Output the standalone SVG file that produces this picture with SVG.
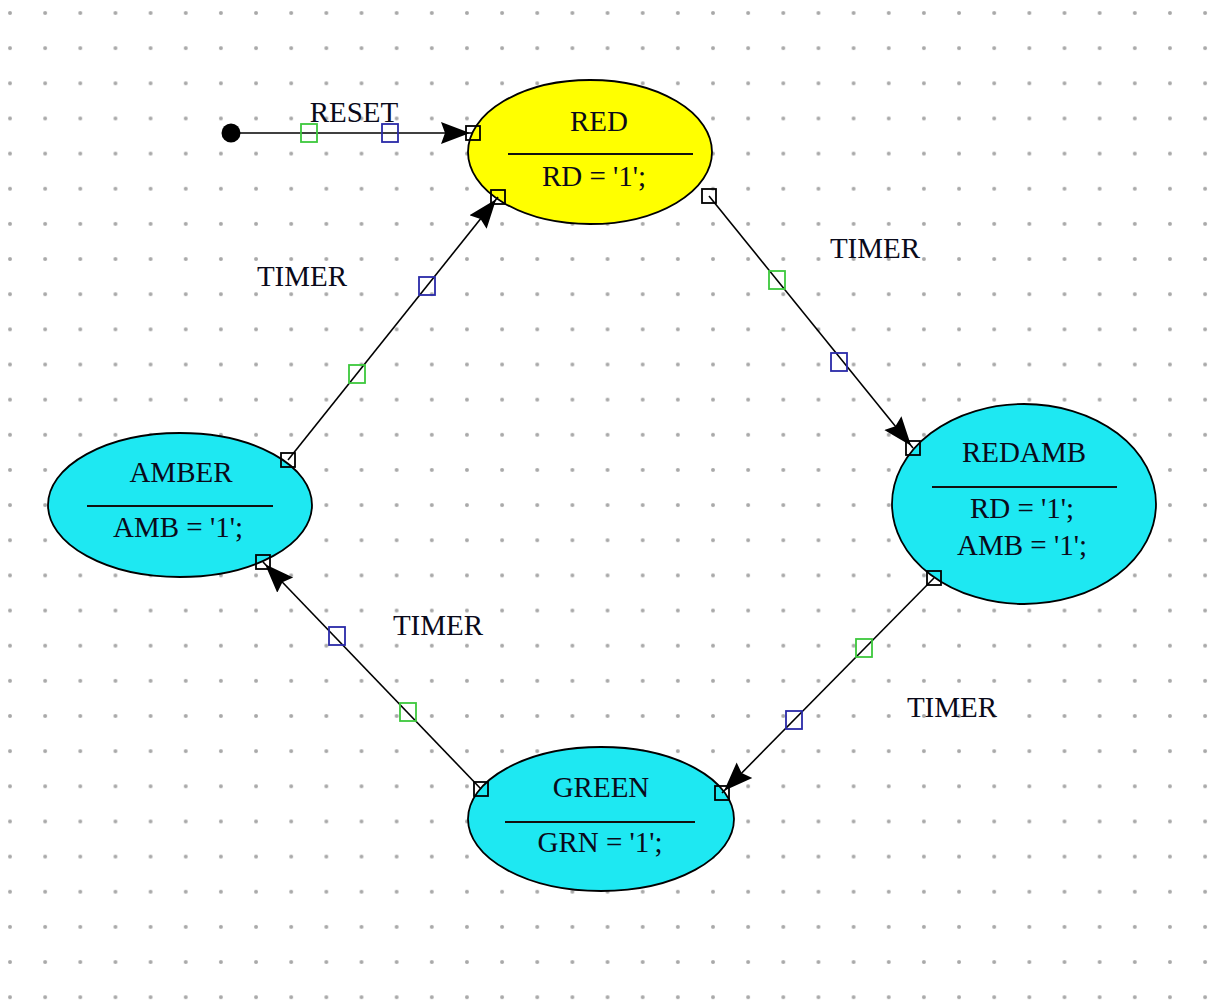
<svg xmlns="http://www.w3.org/2000/svg" width="1215" height="1000" viewBox="0 0 1215 1000">
<style>
.bg{fill:#ffffff}
.node{stroke:#000;stroke-width:1.8}
.yel{fill:#ffff00}
.cya{fill:#1ee8f2}
.sep{stroke:#101010;stroke-width:1.8}
.t{font-family:"Liberation Serif","Times New Roman",serif;font-size:29px;fill:#0a0a1a;text-anchor:middle}
.wire{stroke:#000;stroke-width:1.6;fill:none}
.ep{fill:none;stroke:#000;stroke-width:1.8}
.gs{fill:none;stroke:#3cc83c;stroke-width:1.8}
.bs{fill:none;stroke:#2a2aa8;stroke-width:1.8}
</style>
<defs>
<pattern id="grid" patternUnits="userSpaceOnUse" x="-7.575" y="-4.575" width="35.15" height="35.15">
<circle cx="17.575" cy="17.575" r="2" fill="#a8a8a8"/>
</pattern>
<marker id="arr" markerUnits="userSpaceOnUse" markerWidth="40" markerHeight="28" viewBox="0 -14 40 28" refX="32" refY="0" orient="auto">
<path d="M0,-11 L29,0 L0,11 L4,0 z" fill="#000"/>
</marker>
</defs>
<rect class="bg" x="0" y="0" width="1215" height="1000"/>
<rect x="0" y="0" width="1215" height="1000" fill="url(#grid)"/>

<g id="node-RED">
<ellipse class="node yel" cx="590" cy="152" rx="122" ry="72"/>
<text class="t" x="599" y="131">RED</text>
<line class="sep" x1="508" y1="154" x2="693" y2="154"/>
<text class="t" x="594" y="186">RD = '1';</text>
</g>
<g id="node-REDAMB">
<ellipse class="node cya" cx="1024" cy="504" rx="132" ry="100"/>
<text class="t" x="1024" y="462">REDAMB</text>
<line class="sep" x1="932" y1="487" x2="1117" y2="487"/>
<text class="t" x="1022" y="518">RD = '1';</text>
<text class="t" x="1022" y="555">AMB = '1';</text>
</g>
<g id="node-AMBER">
<ellipse class="node cya" cx="180" cy="505" rx="132" ry="72"/>
<text class="t" x="181" y="482">AMBER</text>
<line class="sep" x1="87" y1="506" x2="273" y2="506"/>
<text class="t" x="178" y="537">AMB = '1';</text>
</g>
<g id="node-GREEN">
<ellipse class="node cya" cx="601" cy="819" rx="133" ry="72"/>
<text class="t" x="601" y="797">GREEN</text>
<line class="sep" x1="505" y1="822" x2="695" y2="822"/>
<text class="t" x="600" y="852">GRN = '1';</text>
</g>

<g id="connectors">
<circle cx="231" cy="133" r="9.5" fill="#000"/>
<line class="wire" x1="231" y1="133" x2="473" y2="133" marker-end="url(#arr)"/>
<rect class="gs" x="301" y="124" width="16" height="18"/>
<rect class="bs" x="382" y="124" width="16" height="18"/>
<rect class="ep" x="466" y="126" width="14" height="14"/>
<text class="t" x="354" y="122">RESET</text>

<line class="wire" x1="709" y1="196" x2="913" y2="448" marker-end="url(#arr)"/>
<rect class="ep" x="702" y="189" width="14" height="14"/>
<rect class="gs" x="769" y="271" width="16" height="18"/>
<rect class="bs" x="831" y="353" width="16" height="18"/>
<rect class="ep" x="906" y="441" width="14" height="14"/>
<text class="t" x="875" y="258">TIMER</text>

<line class="wire" x1="934" y1="578" x2="722" y2="793" marker-end="url(#arr)"/>
<rect class="ep" x="927" y="571" width="14" height="14"/>
<rect class="gs" x="856" y="639" width="16" height="18"/>
<rect class="bs" x="786" y="711" width="16" height="18"/>
<rect class="ep" x="715" y="786" width="14" height="14"/>
<text class="t" x="952" y="717">TIMER</text>

<line class="wire" x1="481" y1="789" x2="263" y2="562" marker-end="url(#arr)"/>
<rect class="ep" x="474" y="782" width="14" height="14"/>
<rect class="gs" x="400" y="703" width="16" height="18"/>
<rect class="bs" x="329" y="627" width="16" height="18"/>
<rect class="ep" x="256" y="555" width="14" height="14"/>
<text class="t" x="438" y="635">TIMER</text>

<line class="wire" x1="288" y1="460" x2="498" y2="197" marker-end="url(#arr)"/>
<rect class="ep" x="281" y="453" width="14" height="14"/>
<rect class="gs" x="349" y="365" width="16" height="18"/>
<rect class="bs" x="419" y="277" width="16" height="18"/>
<rect class="ep" x="491" y="190" width="14" height="14"/>
<text class="t" x="302" y="286">TIMER</text>
</g>
</svg>
